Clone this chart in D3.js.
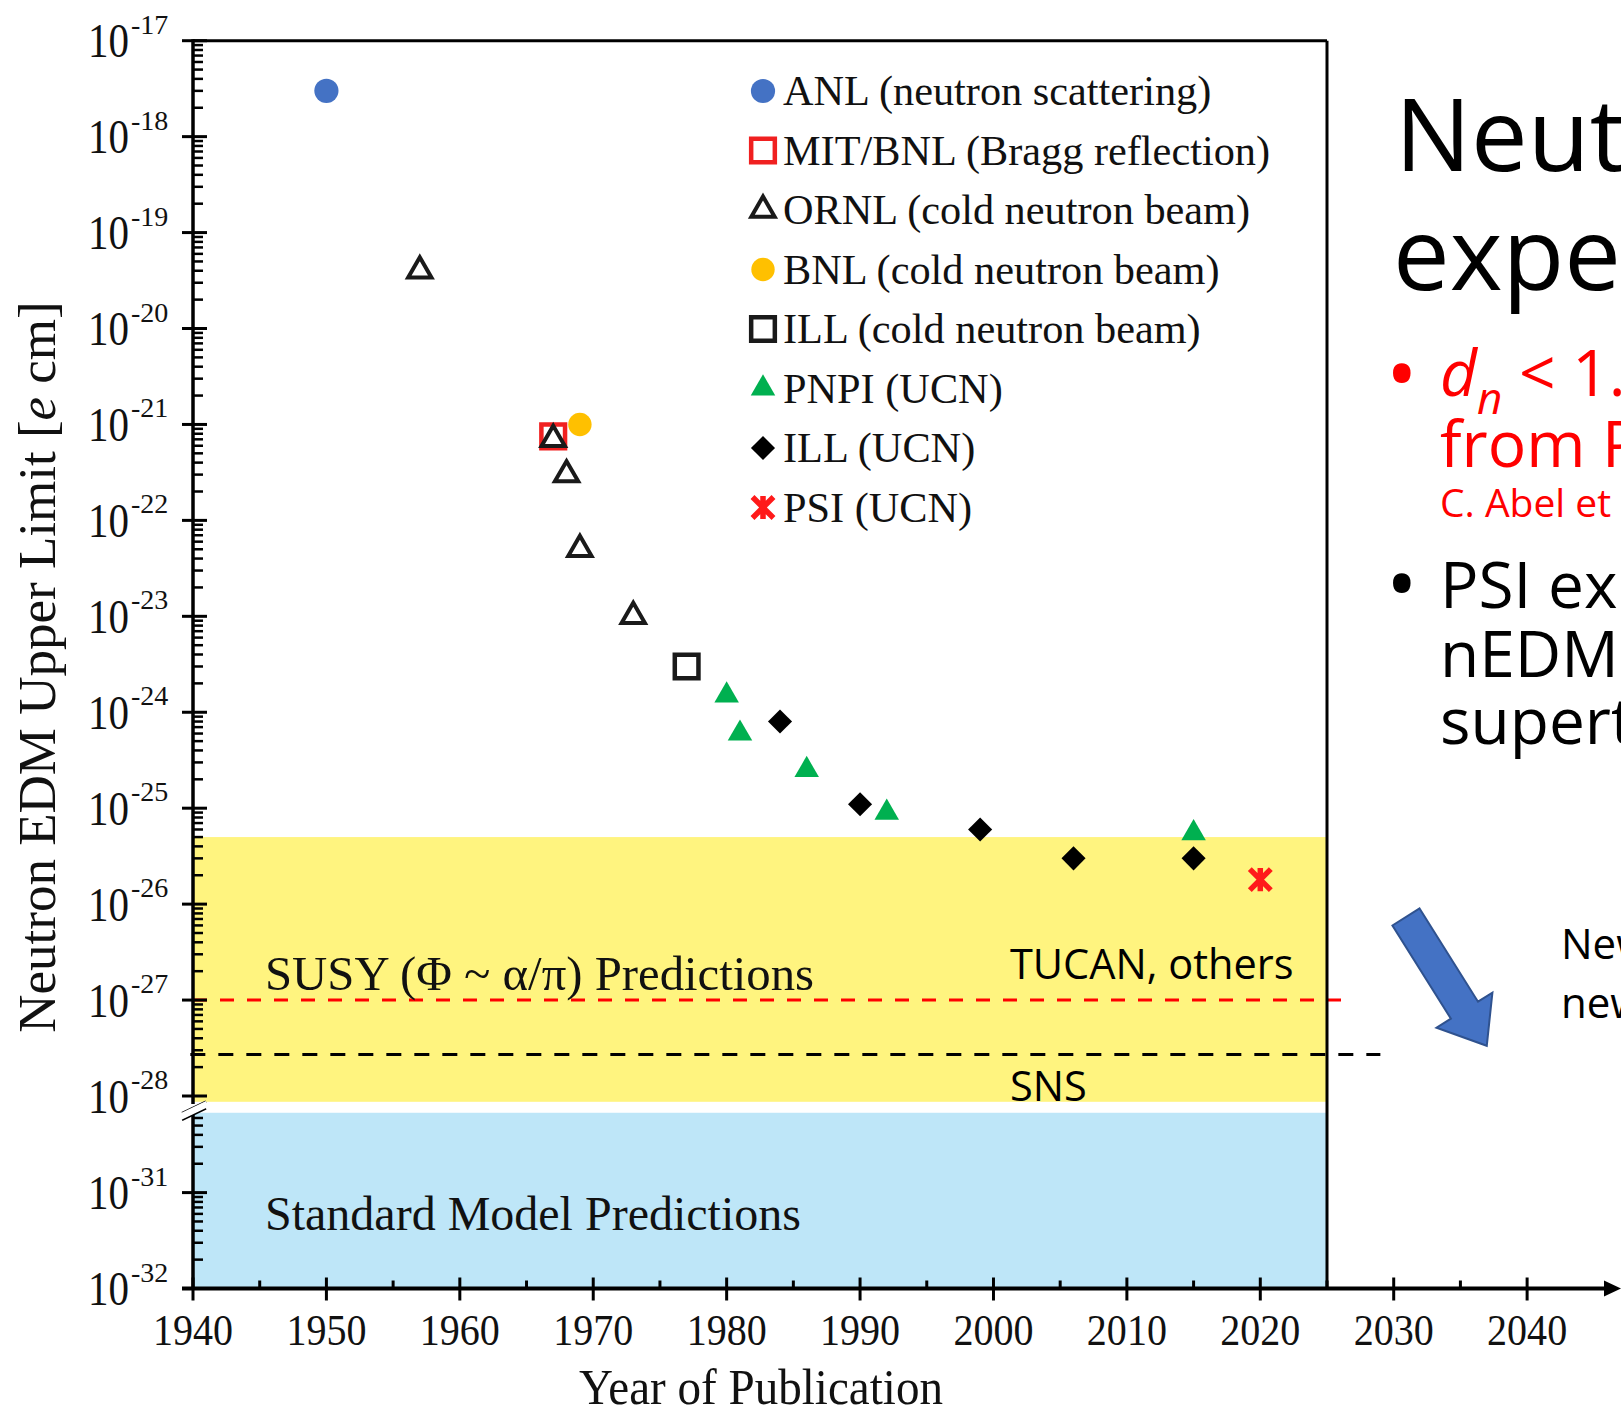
<!DOCTYPE html>
<html><head><meta charset="utf-8">
<script src="https://cdn.jsdelivr.net/npm/d3@7"></script>
<style>body{margin:0;background:#fff;overflow:hidden}svg{display:block}</style>
</head><body>
<svg id="c" width="1621" height="1414"></svg>
<script>
// ---------------- data ----------------
const seriesNames = ["ANL (neutron scattering)","MIT/BNL (Bragg reflection)","ORNL (cold neutron beam)","BNL (cold neutron beam)","ILL (cold neutron beam)","PNPI (UCN)","ILL (UCN)","PSI (UCN)"];
const anlYears = [1950];                       const anlValues = [3e-18];
const mitYears = [1967];                       const mitValues = [7.5e-22];
const ornlYears = [1957,1967,1968,1969,1973];  const ornlValues = [4e-20,7e-22,3e-22,5e-23,1e-23];
const bnlYears = [1969];                       const bnlValues = [1e-21];
const illColdYears = [1977];                   const illColdValues = [3e-24];
const pnpiYears = [1980,1981,1986,1992,2015];  const pnpiValues = [1.5e-24,6e-25,2.5e-25,9e-26,5.5e-26];
const illUcnYears = [1984,1990,1999,2006,2015];const illUcnValues = [8e-25,1.1e-25,6e-26,3e-26,3e-26];
const psiYears = [2020];                       const psiValues = [1.8e-26];
const susyBand = [8.7e-29, 5e-26];
const smBand = [1e-32, 6.8e-31];
const tucanLimit = 1e-27;   const tucanYears = [1940, 2026.3];
const snsLimit = 2.7e-28;   const snsYears = [1939.8, 2029];
const yearTicks = [1940,1950,1960,1970,1980,1990,2000,2010,2020,2030,2040];
const yearTickLabels = ["1940","1950","1960","1970","1980","1990","2000","2010","2020","2030","2040"];
const upperExponents = [-17,-18,-19,-20,-21,-22,-23,-24,-25,-26,-27,-28];
const lowerExponents = [-31,-32];

// ---------------- setup ----------------
const svg = d3.select("#c");
const serif = "'Liberation Serif','Times New Roman',serif";
const sans = "'Open Sans','Noto Sans',sans-serif";
const x = d3.scaleLinear().domain([1940, 2025]).range([193, 1327]);
const yUp = d3.scaleLog().domain([1e-28, 1e-17]).range([1096, 40.7]);
const yLo = d3.scaleLog().domain([1e-32, 1e-30]).range([1288.5, 1096.7]);
const X0 = x(1940), X1 = x(2025), AX = 1288.5;

// bands
svg.append("rect").attr("x", X0).attr("width", X1 - X0)
  .attr("y", yUp(susyBand[1])).attr("height", yUp(susyBand[0]) - yUp(susyBand[1])).attr("fill", "#fff47f");
svg.append("rect").attr("x", X0).attr("width", X1 - X0)
  .attr("y", yLo(smBand[1])).attr("height", yLo(smBand[0]) - yLo(smBand[1])).attr("fill", "#bee6f8");

// dashed limit lines
svg.append("line").attr("x1", x(snsYears[0])).attr("x2", x(snsYears[1]))
  .attr("y1", yUp(snsLimit)).attr("y2", yUp(snsLimit))
  .attr("stroke", "#000").attr("stroke-width", 3).attr("stroke-dasharray", "15,13");
svg.append("line").attr("x1", x(tucanYears[0])).attr("x2", x(tucanYears[1]))
  .attr("y1", yUp(tucanLimit)).attr("y2", yUp(tucanLimit))
  .attr("stroke", "#ff0000").attr("stroke-width", 3).attr("stroke-dasharray", "14,13");

// band texts
svg.append("text").attr("x", 265).attr("y", 990).attr("font-family", serif).attr("font-size", 48).attr("fill", "#111")
  .attr("textLength", 549).attr("lengthAdjust", "spacingAndGlyphs")
  .text("SUSY (\u03A6 ~ \u03B1/\u03C0) Predictions");
svg.append("text").attr("x", 265).attr("y", 1230).attr("font-family", serif).attr("font-size", 48).attr("fill", "#111")
  .text("Standard Model Predictions");
svg.append("text").attr("x", 1010).attr("y", 979).attr("font-family", sans).attr("font-size", 41.5).attr("fill", "#000")
  .text("TUCAN, others");
svg.append("text").attr("x", 1010).attr("y", 1101).attr("font-family", sans).attr("font-size", 41.5).attr("fill", "#000")
  .text("SNS");

// frame
const ax = svg.append("g").attr("stroke", "#000");
ax.append("line").attr("x1", X0).attr("x2", X1).attr("y1", yUp(1e-17)).attr("y2", yUp(1e-17)).attr("stroke-width", 3);
ax.append("line").attr("x1", X1).attr("x2", X1).attr("y1", yUp(1e-17)).attr("y2", AX).attr("stroke-width", 3);
ax.append("line").attr("x1", X0).attr("x2", X0).attr("y1", yUp(1e-17) - 1.5).attr("y2", 1104).attr("stroke-width", 3.5);
ax.append("line").attr("x1", X0).attr("x2", X0).attr("y1", 1110).attr("y2", AX).attr("stroke-width", 3.5);
// axis break
svg.append("path").attr("d", "M181,1113 L206,1101 L206,1108 L181,1120 Z").attr("fill", "#fff");
ax.append("line").attr("x1", 182).attr("y1", 1113).attr("x2", 206).attr("y2", 1101.5).attr("stroke-width", 2.2);
ax.append("line").attr("x1", 182).attr("y1", 1120).attr("x2", 206).attr("y2", 1108.5).attr("stroke-width", 2.2);

// y ticks
const upperMinor = [];
for (let e = -28; e < -17; e++) for (let k = 2; k <= 9; k++) upperMinor.push(k * Math.pow(10, e));
const lowerMinor = [];
for (let e = -32; e <= -31; e++) for (let k = 2; k <= 9; k++) { const v = k * Math.pow(10, e); if (v <= smBand[1]) lowerMinor.push(v); }
upperMinor.forEach(v => ax.append("line").attr("x1", X0).attr("x2", X0 + 10).attr("y1", yUp(v)).attr("y2", yUp(v)).attr("stroke-width", 2.5));
lowerMinor.forEach(v => ax.append("line").attr("x1", X0).attr("x2", X0 + 10).attr("y1", yLo(v)).attr("y2", yLo(v)).attr("stroke-width", 2.5));
function yLabel(yy, exp) {
  ax.append("line").attr("x1", X0 - 11).attr("x2", X0 + 14).attr("y1", yy).attr("y2", yy).attr("stroke-width", 3);
  svg.append("text").attr("x", 88).attr("y", yy + 16.5).attr("font-family", serif).attr("font-size", 48)
    .attr("textLength", 41).attr("lengthAdjust", "spacingAndGlyphs").attr("fill", "#111").text("10");
  svg.append("text").attr("x", 131).attr("y", yy - 7).attr("font-family", serif).attr("font-size", 28)
    .attr("fill", "#111").text(String(exp));
}
upperExponents.forEach(e => yLabel(yUp(Math.pow(10, e)), e));
lowerExponents.forEach(e => yLabel(yLo(Math.pow(10, e)), e));

// x axis
ax.append("line").attr("x1", 182).attr("x2", 1606).attr("y1", AX).attr("y2", AX).attr("stroke-width", 4);
svg.append("path").attr("d", `M1604,${AX - 8} L1621,${AX} L1604,${AX + 8} Z`).attr("fill", "#000");
yearTicks.forEach((t, i) => {
  ax.append("line").attr("x1", x(t)).attr("x2", x(t)).attr("y1", AX - 11).attr("y2", AX + 12).attr("stroke-width", 3);
  if (t < 2040) ax.append("line").attr("x1", x(t + 5)).attr("x2", x(t + 5)).attr("y1", AX - 8).attr("y2", AX).attr("stroke-width", 3);
  svg.append("text").attr("transform", `translate(${x(t)},1345) scale(0.91,1)`).attr("text-anchor", "middle")
    .attr("font-family", serif).attr("font-size", 44).attr("fill", "#111").text(yearTickLabels[i]);
});

// axis titles
svg.append("text").attr("x", 761).attr("y", 1404).attr("text-anchor", "middle").attr("font-family", serif)
  .attr("font-size", 50).attr("textLength", 364).attr("lengthAdjust", "spacingAndGlyphs").attr("fill", "#111")
  .text("Year of Publication");
const yt = svg.append("text").attr("transform", "translate(55,667) rotate(-90)").attr("text-anchor", "middle")
  .attr("font-family", serif).attr("font-size", 53).attr("fill", "#111");
yt.append("tspan").text("Neutron EDM Upper Limit [");
yt.append("tspan").attr("font-style", "italic").text("e");
yt.append("tspan").text(" cm]");

// ---------------- markers ----------------
function starPath(r) {
  const p = d3.path();
  p.moveTo(-r, -r); p.lineTo(r, r); p.moveTo(-r, r); p.lineTo(r, -r);
  p.moveTo(0, -r * 1.1); p.lineTo(0, r * 1.1);
  return p.toString();
}
const styles = [
  {d: d3.symbol(d3.symbolCircle, 460)(), fill: "#4472c4", stroke: "none", sw: 0},
  {d: d3.symbol(d3.symbolSquare, 560)(), fill: "none", stroke: "#f02020", sw: 4.5},
  {d: d3.symbol(d3.symbolTriangle, 235)(), fill: "none", stroke: "#1a1a1a", sw: 4},
  {d: d3.symbol(d3.symbolCircle, 430)(), fill: "#ffc000", stroke: "none", sw: 0},
  {d: d3.symbol(d3.symbolSquare, 560)(), fill: "none", stroke: "#1a1a1a", sw: 4.5},
  {d: d3.symbol(d3.symbolTriangle, 260)(), fill: "#00b050", stroke: "none", sw: 0},
  {d: d3.symbol(d3.symbolSquare, 290)(), fill: "#000", stroke: "none", sw: 0, rot: 45},
  {d: starPath(10.5), fill: "none", stroke: "#ff1a1a", sw: 5.5},
];
const datasets = [
  [anlYears, anlValues],[mitYears, mitValues],[ornlYears, ornlValues],[bnlYears, bnlValues],
  [illColdYears, illColdValues],[pnpiYears, pnpiValues],[illUcnYears, illUcnValues],[psiYears, psiValues]
];
function drawMarker(g, s, cx, cy) {
  g.append("path").attr("d", s.d).attr("fill", s.fill).attr("stroke", s.stroke).attr("stroke-width", s.sw)
    .attr("stroke-linejoin", "miter")
    .attr("transform", `translate(${cx},${cy})` + (s.rot ? ` rotate(${s.rot})` : ""));
}
const mg = svg.append("g");
datasets.forEach((ds, i) => {
  ds[0].forEach((yr, j) => drawMarker(mg, styles[i], x(yr), yUp(ds[1][j])));
});

// legend
const lg = svg.append("g");
seriesNames.forEach((name, i) => {
  const cy = 91 + i * 59.5;
  drawMarker(lg, styles[i], 763, cy);
  lg.append("text").attr("x", 783).attr("y", cy + 14).attr("font-family", serif).attr("font-size", 42.3)
    .attr("fill", "#111").text(name);
});

// ---------------- slide text on the right ----------------
const st = svg.append("g").attr("font-family", sans);
const title = st.append("text").attr("font-size", 101).attr("fill", "#000");
title.append("tspan").attr("x", 1395).attr("y", 171).text("Neut");
title.append("tspan").attr("x", 1393).attr("y", 290).text("expe");

st.append("text").attr("x", 1386).attr("y", 404).attr("font-size", 84).attr("fill", "#ff0000").text("\u2022");
const red = st.append("text").attr("font-size", 64).attr("fill", "#ff0000");
red.append("tspan").attr("x", 1440).attr("y", 396).attr("font-style", "italic").text("d");
red.append("tspan").attr("font-style", "italic").attr("font-size", 44).attr("dy", 18).text("n");
red.append("tspan").attr("dy", -18).text(" < 1.");
red.append("tspan").attr("x", 1440).attr("y", 467).text("from P");
red.append("tspan").attr("x", 1440).attr("y", 517).attr("font-size", 39).text("C. Abel et a");

st.append("text").attr("x", 1386).attr("y", 614).attr("font-size", 84).attr("fill", "#000").text("\u2022");
const blk = st.append("text").attr("font-size", 64).attr("fill", "#000");
blk.append("tspan").attr("x", 1440).attr("y", 608).text("PSI ex");
blk.append("tspan").attr("x", 1440).attr("y", 677).text("nEDM");
blk.append("tspan").attr("x", 1440).attr("y", 744).text("supert");

const nw = st.append("text").attr("font-size", 42).attr("fill", "#000");
nw.append("tspan").attr("x", 1561).attr("y", 959).text("New");
nw.append("tspan").attr("x", 1561).attr("y", 1018).text("new");

// blue block arrow
const L = 152, hl = 42, sw2 = 16, hw = 33;
svg.append("path")
  .attr("d", `M0,${-sw2} L${L - hl},${-sw2} L${L - hl},${-hw} L${L},0 L${L - hl},${hw} L${L - hl},${sw2} L0,${sw2} Z`)
  .attr("transform", "translate(1406,917) rotate(57.9)")
  .attr("fill", "#4472c4").attr("stroke", "#2f528f").attr("stroke-width", 2);
</script>
</body></html>
